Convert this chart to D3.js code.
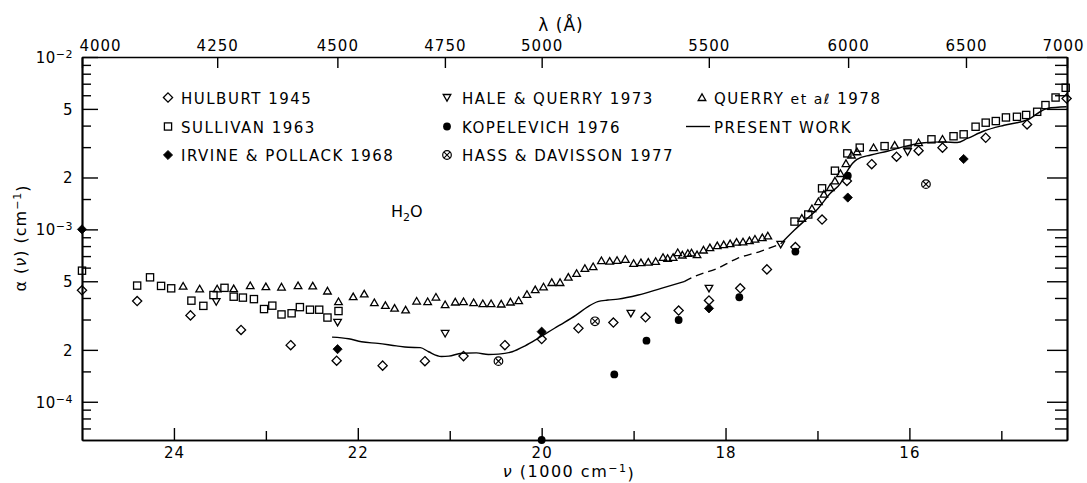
<!DOCTYPE html>
<html><head><meta charset="utf-8">
<script src="https://cdn.jsdelivr.net/npm/d3@7"></script>
<style>
body{margin:0;background:#fff;}
svg{display:block;}
text{font-family:'DejaVu Sans',sans-serif;fill:#000;}
</style></head>
<body>
<svg id="chart" width="1087" height="483"></svg>
<script>
// ---------------- DATA ----------------
const xMajorTicks = [24, 22, 20, 18, 16];
const xMinorTicks = [23, 21, 19, 17, 15];
const lambdaTicks = [4000, 4250, 4500, 4750, 5000, 5500, 6000, 6500, 7000];
const yMajorTicks = [1e-2, 5e-3, 2e-3, 1e-3, 5e-4, 2e-4, 1e-4];
const yTickBase = ["10", "5", "2", "10", "5", "2", "10"];
const yTickExp = ["\u22122", "", "", "\u22123", "", "", "\u22124"];
const yMinorTicks = [9e-3, 8e-3, 7e-3, 6e-3, 4e-3, 3e-3, 1.5e-3,
                     9e-4, 8e-4, 7e-4, 6e-4, 4e-4, 3e-4, 1.5e-4,
                     9e-5, 8e-5, 7e-5];

const hulburtNu = [25.0, 24.40, 23.82, 23.27, 22.73, 22.23, 21.73, 21.27, 20.85, 20.40, 20.00, 19.60, 19.22, 18.87, 18.51, 18.18, 17.84, 17.55, 17.24, 16.95, 16.68, 16.41, 16.14, 15.90, 15.64, 15.17, 14.72, 14.29];
const hulburtA = [4.43e-4, 3.84e-4, 3.17e-4, 2.61e-4, 2.13e-4, 1.73e-4, 1.62e-4, 1.72e-4, 1.84e-4, 2.13e-4, 2.31e-4, 2.67e-4, 2.88e-4, 3.09e-4, 3.38e-4, 3.87e-4, 4.55e-4, 5.86e-4, 7.89e-4, 1.14e-3, 1.91e-3, 2.39e-3, 2.64e-3, 2.86e-3, 2.98e-3, 3.40e-3, 4.06e-3, 5.74e-3];

const sullivanNu = [25.0, 24.40, 24.26, 24.14, 24.03, 23.81, 23.68, 23.57, 23.45, 23.35, 23.25, 23.13, 23.02, 22.93, 22.83, 22.72, 22.63, 22.52, 22.42, 22.33, 22.21,
                    17.25, 17.10, 16.95, 16.81, 16.675, 16.54, 16.27, 16.02, 15.76, 15.52, 15.41, 15.28, 15.17, 15.06, 14.95, 14.83, 14.73, 14.61, 14.52, 14.41, 14.30];
const sullivanA = [5.76e-4, 4.72e-4, 5.27e-4, 4.70e-4, 4.55e-4, 3.86e-4, 3.60e-4, 4.16e-4, 4.58e-4, 4.07e-4, 4.02e-4, 3.94e-4, 3.45e-4, 3.61e-4, 3.21e-4, 3.26e-4, 3.54e-4, 3.42e-4, 3.42e-4, 3.08e-4, 3.36e-4,
                   1.11e-3, 1.22e-3, 1.73e-3, 2.19e-3, 2.76e-3, 2.98e-3, 3.04e-3, 3.15e-3, 3.33e-3, 3.47e-3, 3.56e-3, 3.94e-3, 4.16e-3, 4.25e-3, 4.46e-3, 4.50e-3, 4.61e-3, 4.81e-3, 5.26e-3, 5.82e-3, 6.63e-3];

const irvineNu = [25.0, 22.22, 20.0, 18.18, 16.67, 15.41];
const irvineA = [1.0e-3, 2.02e-4, 2.55e-4, 3.48e-4, 1.53e-3, 2.56e-3];

const haleNu = [23.54, 22.22, 21.05, 19.03, 18.18, 17.40, 16.02];
const haleA = [3.81e-4, 2.89e-4, 2.49e-4, 3.26e-4, 4.55e-4, 8.19e-4, 2.82e-3];

const kopelevichNu = [20.0, 19.21, 18.86, 18.51, 17.85, 17.24, 16.67];
const kopelevichA = [6.0e-5, 1.44e-4, 2.26e-4, 2.98e-4, 4.04e-4, 7.43e-4, 2.05e-3];

const hassNu = [20.47, 19.42, 15.82];
const hassA = [1.72e-4, 2.93e-4, 1.83e-3];

const querryNu = [23.90, 23.72, 23.53, 23.35, 23.17, 23.00, 22.83, 22.65, 22.49, 22.33,
                  22.21, 22.05, 21.93, 21.82, 21.70, 21.60, 21.48, 21.36, 21.24, 21.15,
                  21.05, 20.94, 20.85, 20.74, 20.64, 20.55, 20.44, 20.34, 20.25, 20.16,
                  20.07, 19.98, 19.89, 19.80, 19.71, 19.62, 19.53, 19.44, 19.35, 19.26,
                  19.18, 19.09, 19.00, 18.92, 18.84, 18.76, 18.68, 18.63, 18.57, 18.52,
                  18.47, 18.41, 18.37, 18.31, 18.24, 18.17, 18.09, 18.02, 17.95, 17.88,
                  17.81, 17.74, 17.68, 17.60, 17.54, 17.17, 17.06, 16.99, 16.93, 16.86,
                  16.81, 16.75, 16.69, 16.63, 16.57, 16.39, 16.16, 15.90, 15.64];
const querryA = [4.69e-4, 4.52e-4, 4.52e-4, 4.53e-4, 4.72e-4, 4.65e-4, 4.63e-4, 4.72e-4, 4.70e-4, 4.39e-4,
                 3.81e-4, 4.07e-4, 4.22e-4, 3.76e-4, 3.62e-4, 3.49e-4, 3.41e-4, 3.84e-4, 3.81e-4, 4.05e-4,
                 3.66e-4, 3.79e-4, 3.81e-4, 3.76e-4, 3.71e-4, 3.71e-4, 3.69e-4, 3.79e-4, 3.86e-4, 4.20e-4,
                 4.47e-4, 4.64e-4, 4.92e-4, 4.92e-4, 5.28e-4, 5.56e-4, 5.94e-4, 6.08e-4, 6.59e-4, 6.54e-4,
                 6.61e-4, 6.70e-4, 6.35e-4, 6.41e-4, 6.45e-4, 6.52e-4, 6.88e-4, 6.79e-4, 6.88e-4, 7.34e-4,
                 7.10e-4, 7.26e-4, 7.31e-4, 7.13e-4, 7.59e-4, 7.83e-4, 8.04e-4, 8.15e-4, 8.26e-4, 8.43e-4,
                 8.46e-4, 8.60e-4, 8.79e-4, 8.95e-4, 9.17e-4, 1.16e-3, 1.32e-3, 1.45e-3, 1.60e-3, 1.75e-3,
                 1.91e-3, 2.11e-3, 2.41e-3, 2.70e-3, 2.82e-3, 2.98e-3, 3.08e-3, 3.19e-3, 3.34e-3];

const presentSolid1Nu = [22.28, 22.10, 21.96, 21.78, 21.58, 21.45, 21.32, 21.23, 21.09, 21.01, 20.87, 20.71, 20.58, 20.47, 20.32, 20.18, 20.04, 19.86, 19.76, 19.63, 19.50, 19.39, 19.28, 19.17, 18.95, 18.70, 18.45];
const presentSolid1A = [2.37e-4, 2.32e-4, 2.23e-4, 2.18e-4, 2.11e-4, 2.07e-4, 2.06e-4, 1.95e-4, 1.83e-4, 1.84e-4, 1.91e-4, 1.92e-4, 1.88e-4, 1.89e-4, 1.95e-4, 2.11e-4, 2.33e-4, 2.67e-4, 2.87e-4, 3.17e-4, 3.55e-4, 3.81e-4, 3.89e-4, 3.94e-4, 4.16e-4, 4.55e-4, 4.98e-4];
const presentDashedNu = [18.45, 18.34, 18.09, 17.87, 17.62, 17.40];
const presentDashedA = [4.98e-4, 5.32e-4, 5.94e-4, 6.79e-4, 7.46e-4, 8.24e-4];
const presentSolid2Nu = [17.40, 17.25, 17.11, 17.00, 16.86, 16.75, 16.68, 16.62, 16.57, 16.42, 16.24, 16.06, 15.84, 15.63, 15.48, 15.37, 15.19, 14.97, 14.72, 14.50, 14.29];
const presentSolid2A = [8.24e-4, 9.91e-4, 1.16e-3, 1.31e-3, 1.62e-3, 1.85e-3, 2.16e-3, 2.41e-3, 2.55e-3, 2.70e-3, 2.84e-3, 3.02e-3, 3.18e-3, 3.22e-3, 3.19e-3, 3.37e-3, 3.72e-3, 4.02e-3, 4.31e-3, 5.03e-3, 5.14e-3];

const legendLabels = ["HULBURT 1945", "SULLIVAN 1963", "IRVINE & POLLACK 1968",
                      "HALE & QUERRY 1973", "KOPELEVICH 1976", "HASS & DAVISSON 1977",
                      "QUERRY et a\u2113 1978", "PRESENT WORK"];
const legendSymbols = ["diamond", "square", "fdiamond", "dtri", "dot", "xcircle", "utri", "line"];

// ---------------- CHART ----------------
const svg = d3.select("#chart");
const L = 82, R = 1067, T = 57, B = 440;
const x = d3.scaleLinear().domain([25, 1e5 / 7000]).range([L, R]);
const y = d3.scaleLog().domain([6e-5, 1e-2]).range([B, T]);

const FS = 15;
function styleAxis(g) {
  g.selectAll("path.domain").attr("stroke", "#000").attr("stroke-width", 1.7);
  g.selectAll(".tick line").attr("stroke", "#000").attr("stroke-width", 1.4);
  g.selectAll(".tick text").attr("font-family", "'DejaVu Sans',sans-serif")
    .attr("font-size", FS).attr("letter-spacing", "1px").attr("fill", "#000");
}

// left axis
const gl = svg.append("g").attr("transform", `translate(${L},0)`)
  .call(d3.axisLeft(y).tickValues(yMinorTicks).tickFormat("").tickSizeInner(-9).tickSizeOuter(0));
styleAxis(gl);
const glm = svg.append("g").attr("transform", `translate(${L},0)`)
  .call(d3.axisLeft(y).tickValues(yMajorTicks).tickFormat("").tickSizeInner(-16).tickSizeOuter(0).tickPadding(9));
styleAxis(glm);
glm.selectAll(".tick").each(function(d, i) {
  const t = d3.select(this).append("text").attr("x", -9).attr("dy", "0.36em")
    .attr("text-anchor", "end").attr("font-size", FS).attr("letter-spacing", "0.5px");
  t.append("tspan").text(yTickBase[i]);
  if (yTickExp[i]) {
    t.append("tspan").attr("dy", "-0.45em").attr("font-size", 11).text(yTickExp[i]);
  }
});

// right axis
const gr = svg.append("g").attr("transform", `translate(${R},0)`)
  .call(d3.axisRight(y).tickValues(yMinorTicks).tickFormat("").tickSizeInner(-12).tickSizeOuter(0));
styleAxis(gr);
const grm = svg.append("g").attr("transform", `translate(${R},0)`)
  .call(d3.axisRight(y).tickValues(yMajorTicks).tickFormat("").tickSizeInner(-20).tickSizeOuter(0));
styleAxis(grm);

// bottom axis
const gb = svg.append("g").attr("transform", `translate(0,${B})`)
  .call(d3.axisBottom(x).tickValues(xMinorTicks).tickFormat("").tickSizeInner(-9).tickSizeOuter(0));
styleAxis(gb);
const gbm = svg.append("g").attr("transform", `translate(0,${B})`)
  .call(d3.axisBottom(x).tickValues(xMajorTicks).tickFormat(d3.format("d")).tickSizeInner(-12).tickSizeOuter(0).tickPadding(7));
styleAxis(gbm);

// top axis (wavelength)
const gt = svg.append("g").attr("transform", `translate(0,${T})`)
  .call(d3.axisTop(x).tickValues(lambdaTicks.map(l => 1e5 / l))
    .tickFormat((d, i) => lambdaTicks[i]).tickSizeInner(-11).tickSizeOuter(0).tickPadding(6));
styleAxis(gt);
gt.selectAll(".tick text").attr("letter-spacing", "1px");
gt.selectAll(".tick text").filter((d, i) => i === 0).attr("dx", 18);
gt.selectAll(".tick text").filter((d, i) => i === lambdaTicks.length - 1).attr("dx", -4);

// axis titles
svg.append("text").attr("x", 561).attr("y", 31).attr("text-anchor", "middle")
  .attr("font-size", 17).attr("letter-spacing", "1px").text("\u03bb (\u00c5)");
const xt = svg.append("text").attr("x", 569).attr("y", 477).attr("text-anchor", "middle")
  .attr("font-size", 16).attr("letter-spacing", "1.5px");
xt.append("tspan").attr("font-style", "italic").text("\u03bd");
xt.append("tspan").text("  (1000 cm");
xt.append("tspan").attr("dy", "-0.45em").attr("font-size", 11).text("\u22121");
xt.append("tspan").attr("dy", "0.45em").text(")");

const yt = svg.append("text").attr("transform", "translate(26,238) rotate(-90)")
  .attr("text-anchor", "middle").attr("font-size", 16).attr("letter-spacing", "1px");
yt.append("tspan").text("\u03b1 (");
yt.append("tspan").attr("font-style", "italic").text("\u03bd");
yt.append("tspan").text(") (cm");
yt.append("tspan").attr("dy", "-0.45em").attr("font-size", 11).text("\u22121");
yt.append("tspan").attr("dy", "0.45em").text(")");

// H2O label
const h2o = svg.append("text").attr("x", 391).attr("y", 217).attr("font-size", 16);
h2o.append("tspan").text("H");
h2o.append("tspan").attr("dy", 4).attr("font-size", 11).text("2");
h2o.append("tspan").attr("dy", -4).text("O");

// ---------------- MARKERS ----------------
function drawSymbol(g, type) {
  const sw = 1.3;
  switch (type) {
    case "diamond":
      g.append("path").attr("d", "M0,-4.6L4.6,0L0,4.6L-4.6,0Z").attr("fill", "none").attr("stroke", "#000").attr("stroke-width", sw); break;
    case "fdiamond":
      g.append("path").attr("d", "M0,-4.6L4.6,0L0,4.6L-4.6,0Z").attr("fill", "#000").attr("stroke", "#000").attr("stroke-width", 0.8); break;
    case "square":
      g.append("rect").attr("x", -3.6).attr("y", -3.6).attr("width", 7.2).attr("height", 7.2).attr("fill", "none").attr("stroke", "#000").attr("stroke-width", sw); break;
    case "dtri":
      g.append("path").attr("d", "M-3.8,-3L3.8,-3L0,3.6Z").attr("fill", "none").attr("stroke", "#000").attr("stroke-width", sw); break;
    case "utri":
      g.append("path").attr("d", "M-3.8,3L3.8,3L0,-3.6Z").attr("fill", "none").attr("stroke", "#000").attr("stroke-width", sw); break;
    case "dot":
      g.append("circle").attr("r", 3.9).attr("fill", "#000"); break;
    case "xcircle":
      g.append("circle").attr("r", 4.3).attr("fill", "none").attr("stroke", "#000").attr("stroke-width", 1.2);
      g.append("path").attr("d", "M-2.9,-2.9L2.9,2.9M-2.9,2.9L2.9,-2.9").attr("stroke", "#000").attr("stroke-width", 1.1); break;
    case "line":
      g.append("line").attr("x1", -16).attr("x2", 8).attr("stroke", "#000").attr("stroke-width", 1.4); break;
  }
}

// present work line
const line = d3.line().x(d => x(d[0])).y(d => y(d[1])).curve(d3.curveMonotoneX);
const lineG = svg.append("g").attr("fill", "none").attr("stroke", "#000").attr("stroke-width", 1.4);
lineG.append("path").attr("d", line(d3.zip(presentSolid1Nu, presentSolid1A)));
lineG.append("path").attr("d", line(d3.zip(presentDashedNu, presentDashedA))).attr("stroke-dasharray", "8,5");
lineG.append("path").attr("d", line(d3.zip(presentSolid2Nu, presentSolid2A)));

const series = [
  [hulburtNu, hulburtA, "diamond"],
  [sullivanNu, sullivanA, "square"],
  [querryNu, querryA, "utri"],
  [haleNu, haleA, "dtri"],
  [hassNu, hassA, "xcircle"],
  [irvineNu, irvineA, "fdiamond"],
  [kopelevichNu, kopelevichA, "dot"]
];
series.forEach(([nu, a, sym]) => {
  svg.append("g").selectAll("g").data(d3.zip(nu, a)).join("g")
    .attr("transform", d => `translate(${x(d[0])},${y(d[1])})`)
    .each(function() { drawSymbol(d3.select(this), sym); });
});

// ---------------- LEGEND ----------------
const legCols = [[168, 181], [447, 462], [702, 714]];
const legRows = [97.5, 126.5, 155];
legendLabels.forEach((lab, i) => {
  const c = Math.floor(i / 3), r = i % 3;
  const [mx, tx] = legCols[c];
  const g = svg.append("g").attr("transform", `translate(${mx},${legRows[r]})`);
  drawSymbol(g, legendSymbols[i]);
  const t = svg.append("text").attr("x", tx).attr("y", legRows[r] + 6)
    .attr("font-size", FS).attr("letter-spacing", "1.5px");
  if (lab.includes(" et ")) {
    t.append("tspan").text("QUERRY ");
    t.append("tspan").attr("font-size", 14).text("et a\u2113");
    t.append("tspan").text(" 1978");
  } else {
    t.text(lab);
  }
});
</script>
</body></html>
